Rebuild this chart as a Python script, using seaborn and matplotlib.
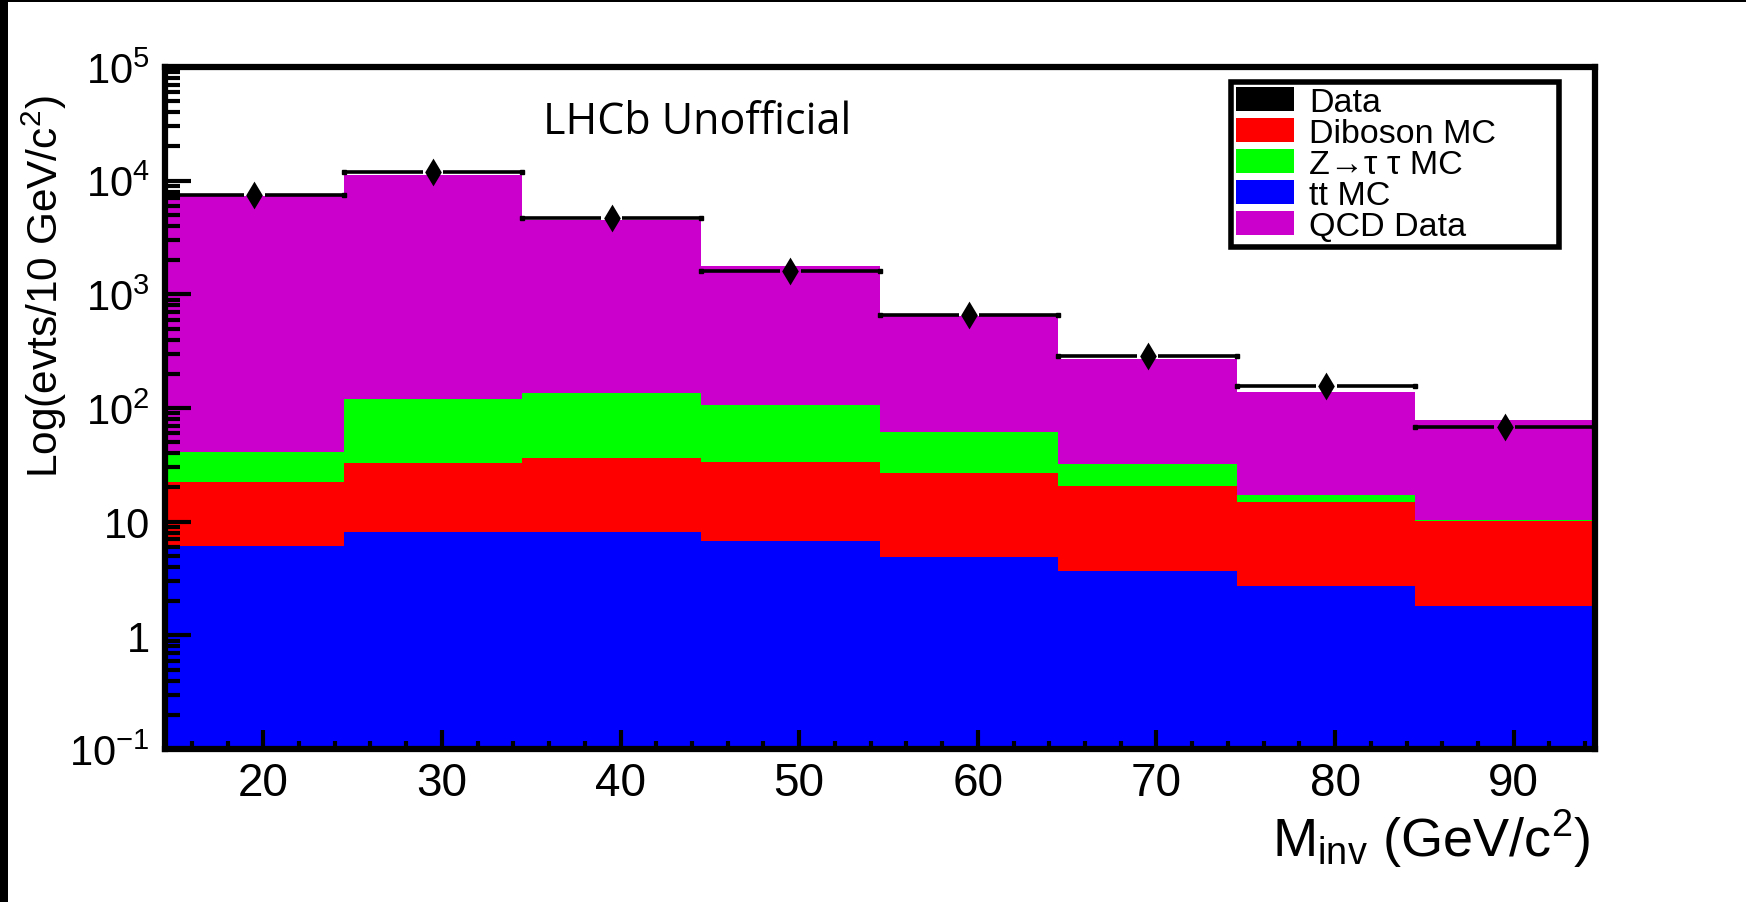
import numpy as np
import pandas as pd
import matplotlib
matplotlib.use("Agg")
import matplotlib.pyplot as plt
import seaborn as sns
from matplotlib.patches import Patch, Rectangle
from matplotlib.ticker import FixedLocator, MultipleLocator, LogLocator, NullFormatter, FixedFormatter

# ---------------- data ----------------
bin_centers = [19.5, 29.5, 39.5, 49.5, 59.5, 69.5, 79.5, 89.5]
bin_width = 10.0
tt_mc = [6.1, 8.1, 8.1, 6.7, 4.9, 3.7, 2.7, 1.8]
diboson_mc = [16.2, 24.7, 27.9, 26.5, 22.0, 16.9, 12.3, 8.4]
ztautau_mc = [18.9, 86.0, 100.0, 73.0, 34.5, 11.5, 2.1, 0.2]
qcd_data = [7219.0, 11211.0, 4384.0, 1654.0, 579.0, 237.0, 120.0, 67.4]
data_counts = [7500.0, 11800.0, 4680.0, 1620.0, 656.0, 286.0, 155.0, 68.7]

process_labels = ["QCD Data", "Z\u2192\u03c4 \u03c4 MC", "Diboson MC", "tt MC"]  # top -> bottom of stack
process_colors = ["#CC00CC", "#00FF00", "#FF0000", "#0000FF"]
y_tick_values = [0.1, 1, 10, 100, 1000, 10000, 100000]
y_tick_labels = ["$10^{-1}$", "1", "10", "$10^{2}$", "$10^{3}$", "$10^{4}$", "$10^{5}$"]
x_tick_values = [20, 30, 40, 50, 60, 70, 80, 90]

# ---------------- style ----------------
sns.set_theme(style="white")
plt.rcParams["font.family"] = ["Liberation Sans", "DejaVu Sans"]
plt.rcParams["mathtext.fontset"] = "custom"
plt.rcParams["mathtext.rm"] = "Liberation Sans"
plt.rcParams["mathtext.it"] = "Liberation Sans"
plt.rcParams["mathtext.default"] = "regular"
for key in ("text.color", "axes.labelcolor", "xtick.color", "ytick.color", "axes.edgecolor"):
    plt.rcParams[key] = "black"

W, H = 1746, 903
fig = plt.figure(figsize=(W / 100, H / 100), dpi=100, facecolor="white")
ax = fig.add_axes([165 / W, 1 - 750 / H, 1430 / W, 682 / H])
ax.set_facecolor("white")

centers = np.array(bin_centers)
edges = [float(c - bin_width / 2) for c in bin_centers] + [float(bin_centers[-1] + bin_width / 2)]
components = [qcd_data, ztautau_mc, diboson_mc, tt_mc]
df = pd.DataFrame({
    "minv": np.tile(centers, len(process_labels)),
    "process": np.repeat(process_labels, len(centers)),
    "events": np.concatenate([np.asarray(c, float) for c in components]),
})

ax.set_yscale("log")
sns.histplot(
    data=df, x="minv", weights="events", hue="process", hue_order=process_labels,
    palette=dict(zip(process_labels, process_colors)), multiple="stack", bins=edges,
    element="step", fill=True, alpha=1, linewidth=0, legend=False, ax=ax,
)

# data: horizontal bin-width bars with gap around the diamond marker
dvals = np.asarray(data_counts)
gap = 0.58
half = bin_width / 2
ax.hlines(dvals, centers - half, centers - gap, color="black", lw=2.6, zorder=5)
ax.hlines(dvals, centers + gap, centers + half, color="black", lw=2.6, zorder=5)
ax.plot(np.concatenate([centers - half, centers + half]), np.concatenate([dvals, dvals]),
        marker="s", ms=3.2, color="black", zorder=5, ls="none")
sns.scatterplot(x=centers, y=dvals, marker="d", s=200, color="black", linewidth=0,
                zorder=6, ax=ax, legend=False)

# axes
ax.set_axisbelow(False)
ax.set_xlim(edges[0], edges[-1] + 0.05)
ax.set_ylim(0.1, 1e5)
for sp in ax.spines.values():
    sp.set_visible(True)
    sp.set_color("black")
    sp.set_linewidth(4.5)
    sp.set_zorder(7)
ax.yaxis.set_major_locator(FixedLocator(y_tick_values))
ax.yaxis.set_major_formatter(FixedFormatter(y_tick_labels))
ax.yaxis.set_minor_locator(LogLocator(base=10, subs=np.arange(2, 10), numticks=20))
ax.yaxis.set_minor_formatter(NullFormatter())
ax.xaxis.set_major_locator(FixedLocator(x_tick_values))
ax.xaxis.set_minor_locator(MultipleLocator(2))
ax.tick_params(axis="both", which="both", direction="in", color="black", width=3,
               labelcolor="black", top=False, right=False, left=True, bottom=True)
ax.tick_params(axis="y", which="major", length=19, pad=11, labelsize=30)
ax.tick_params(axis="y", which="minor", length=11)
ax.tick_params(axis="x", which="major", length=14, pad=9, labelsize=33)
ax.tick_params(axis="x", which="minor", length=6)

ax.set_ylabel("Log(evts/10 GeV/c$^{2}$)", fontsize=30.5, loc="top")
ax.yaxis.set_label_coords(-0.067, 0.96)
ax.set_xlabel("M$_{inv}$ (GeV/c$^{2}$)", fontsize=39, loc="right")
ax.xaxis.set_label_coords(0.9965, -0.157)
ax.xaxis.label.set_va("baseline")

ax.text(0.264, 0.903, "LHCb Unofficial", transform=ax.transAxes, fontsize=31,
        family=["Open Sans", "DejaVu Sans"], ha="left", va="baseline", color="black")

# legend: Data, Diboson, Z->tautau, tt, QCD
color_of = dict(zip(process_labels, process_colors))
leg_labels = ["Data", "Diboson MC", "Z\u2192\u03c4 \u03c4 MC", "tt MC", "QCD Data"]
leg_handles = [Patch(facecolor=color_of.get(l, "black"), edgecolor="none", label=l) for l in leg_labels]
leg_h = 183 / 682
leg = ax.legend(handles=leg_handles, loc="upper left",
                bbox_to_anchor=(0.7455, 0.978 - leg_h, 0.2294, leg_h), mode="expand",
                fontsize=24.5, frameon=True, fancybox=False, framealpha=1,
                edgecolor="black", borderpad=0.15, labelspacing=0.0,
                handlelength=1.7, handleheight=0.72, handletextpad=0.45,
                borderaxespad=0)
leg.get_frame().set_linewidth(4)
leg.set_zorder(10)

# black border strips of the original screenshot
fig.patches.append(Rectangle((0, 0), 8 / W, 1, transform=fig.transFigure,
                             facecolor="black", edgecolor="none"))
fig.patches.append(Rectangle((0, 1 - 3 / H), 1, 3 / H, transform=fig.transFigure,
                             facecolor="black", edgecolor="none"))

fig.savefig("out.png", dpi=100, facecolor="white")
